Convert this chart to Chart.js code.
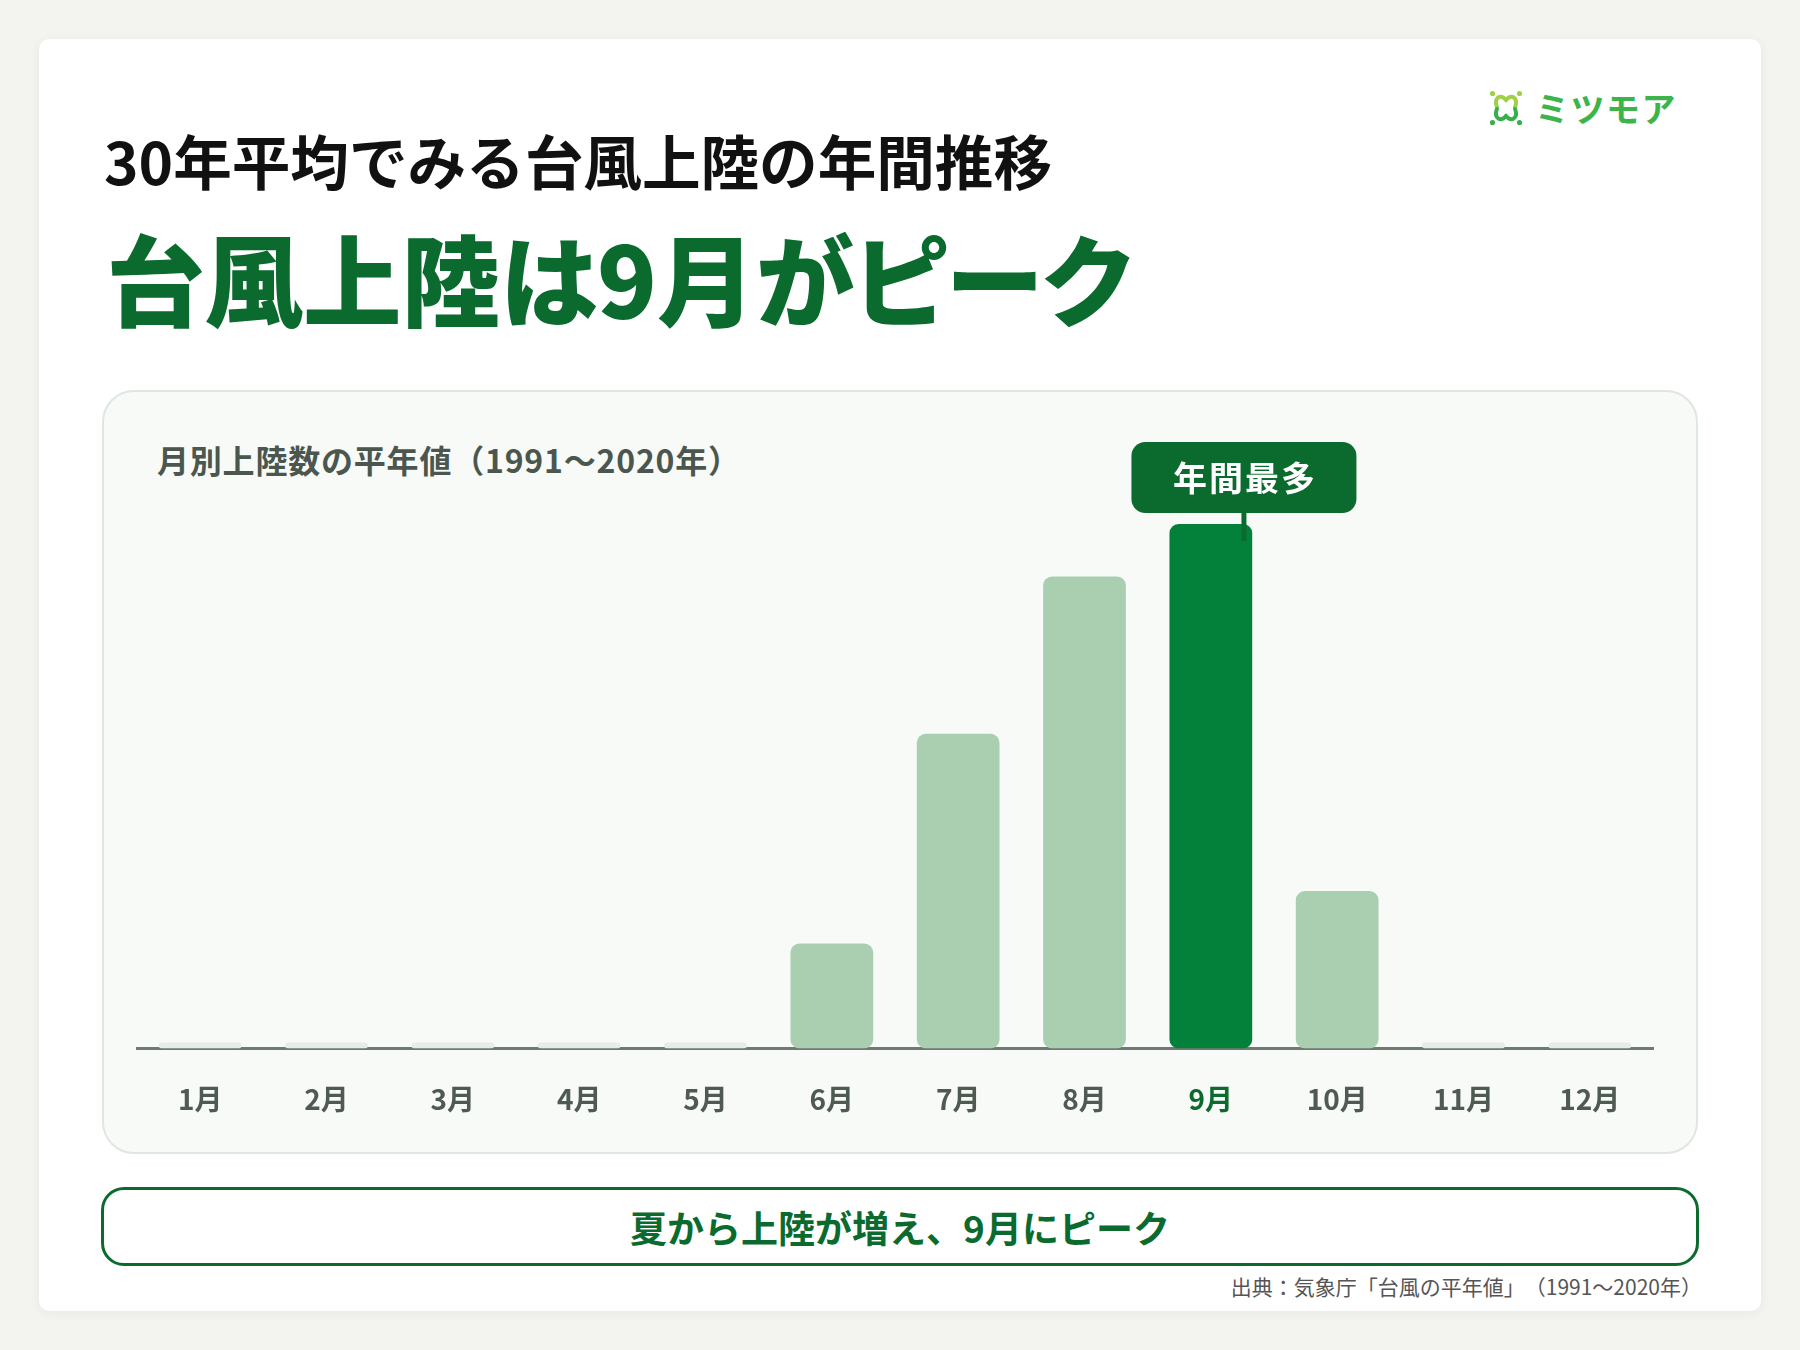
<!DOCTYPE html>
<html lang="ja">
<head>
<meta charset="utf-8">
<script src="https://cdn.jsdelivr.net/npm/chart.js@4.4.1/dist/chart.umd.min.js"></script>
<style>
html,body{margin:0;padding:0;}
body{width:1800px;height:1350px;background:#f3f3f0;position:relative;overflow:hidden;font-family:"Noto Sans CJK JP","Noto Sans",sans-serif;}
.card{position:absolute;left:39px;top:39px;width:1722px;height:1272px;background:#ffffff;border-radius:10px;box-shadow:0 2px 12px rgba(0,0,0,0.05);}
.t1{position:absolute;left:104px;top:131px;font-size:58.6px;line-height:58px;font-weight:700;color:#111;white-space:nowrap;}
.t2{position:absolute;left:106px;top:227px;font-size:98.5px;line-height:98px;font-weight:900;color:#0b6b2e;white-space:nowrap;font-feature-settings:"palt";}
.logo{position:absolute;left:1489px;top:90px;height:36px;display:flex;align-items:center;}
.logo span{font-size:34px;line-height:36px;font-weight:600;color:#3cb44b;letter-spacing:1.5px;margin-left:12px;}
.panel{position:absolute;left:102px;top:390px;width:1596px;height:764px;box-sizing:border-box;border:2px solid #dfe7e0;border-radius:32px;background:#f8faf8;}
.sub{position:absolute;left:157px;top:444px;font-size:32px;line-height:31px;font-weight:700;color:#4b574e;white-space:nowrap;letter-spacing:0.8px;text-spacing-trim:space-all;}
#c{position:absolute;left:102px;top:390px;}
.note{position:absolute;left:101px;top:1187px;width:1598px;height:79px;box-sizing:border-box;border:3.5px solid #0b6b2e;border-radius:23px;background:#fff;display:flex;align-items:center;justify-content:center;font-size:37px;font-weight:700;color:#0b6b2e;}
.src{position:absolute;right:98px;top:1275px;font-size:21px;line-height:22px;color:#555;white-space:nowrap;text-spacing-trim:space-all;}
</style>
</head>
<body>
<div class="card"></div>
<div class="t1">30年平均でみる台風上陸の年間推移</div>
<div class="t2">台風上陸は9月がピーク</div>
<div class="logo">
<svg width="34" height="36" viewBox="0 0 34 36">
<circle cx="3.5" cy="3.5" r="2.6" fill="#9fd048"/>
<circle cx="30.5" cy="3.5" r="2.6" fill="#9fd048"/>
<circle cx="3.5" cy="32.5" r="2.6" fill="#36b04a"/>
<circle cx="30.5" cy="32.5" r="2.6" fill="#36b04a"/>
<path d="M8 17 C5 10 9 6 13 7 C15 7.5 16 9 17 10 C18 9 19 7.5 21 7 C25 6 29 10 26 17" fill="none" stroke="#9fd048" stroke-width="4" stroke-linecap="round"/>
<path d="M8 19 C5 26 9 30 13 29 C15 28.5 16 27 17 26 C18 27 19 28.5 21 29 C25 30 29 26 26 19" fill="none" stroke="#36b04a" stroke-width="4" stroke-linecap="round"/>
</svg>
<span>ミツモア</span>
</div>
<div class="panel"></div>
<div class="sub">月別上陸数の平年値（1991〜2020年）</div>
<canvas id="c" width="1596" height="764"></canvas>
<div class="note">夏から上陸が増え、9月にピーク</div>
<div class="src">出典：気象庁「台風の平年値」（1991〜2020年）</div>
<script>
const months = ['1月','2月','3月','4月','5月','6月','7月','8月','9月','10月','11月','12月'];
const landings = [0, 0, 0, 0, 0, 0.2, 0.6, 0.9, 1.0, 0.3, 0, 0];
const peakLabel = '年間最多';
const peakIndex = landings.indexOf(Math.max(...landings));

const FONT = '"Noto Sans CJK JP", "Noto Sans", sans-serif';

const peakPlugin = {
  id: 'peak',
  afterDatasetsDraw(chart) {
    const bar = chart.getDatasetMeta(0).data[peakIndex];
    const ctx = chart.ctx;
    const bw = 225, bh = 71;
    const cx = bar.x + bar.width * 0.4;
    const bottom = bar.y - 11;
    ctx.save();
    ctx.strokeStyle = '#0b6b2e';
    ctx.lineWidth = 5;
    ctx.beginPath();
    ctx.moveTo(cx, bottom - 2);
    ctx.lineTo(cx, bar.y + 17);
    ctx.stroke();
    ctx.fillStyle = '#0b6b2e';
    ctx.beginPath();
    ctx.roundRect(cx - bw / 2, bottom - bh, bw, bh, 14);
    ctx.fill();
    ctx.fillStyle = '#ffffff';
    ctx.font = 'bold 34px ' + FONT;
    ctx.textAlign = 'center';
    ctx.textBaseline = 'middle';
    try { ctx.letterSpacing = '2px'; } catch (e) {}
    ctx.fillText(peakLabel, cx + 1, bottom - bh / 2 + 1);
    ctx.restore();
  }
};

new Chart(document.getElementById('c'), {
  type: 'bar',
  data: {
    labels: months,
    datasets: [{
      data: landings,
      backgroundColor: (c) => c.dataIndex === peakIndex ? '#03803a' : (landings[c.dataIndex] === 0 ? '#e6ece8' : '#a9cfb0'),
      borderRadius: 9,
      borderSkipped: false,
      minBarLength: 6,
      categoryPercentage: 1,
      barPercentage: 0.655
    }]
  },
  options: {
    responsive: false,
    animation: false,
    devicePixelRatio: 1,
    layout: { padding: { left: 35, right: 45, top: 134, bottom: 4 } },
    plugins: { legend: { display: false }, tooltip: { enabled: false } },
    scales: {
      x: {
        grid: { display: false, drawTicks: false },
        border: { display: true, color: '#6f7b72', width: 3 },
        ticks: {
          padding: 34,
          font: { family: FONT, size: 28, weight: 'bold' },
          color: (c) => c.index === peakIndex ? '#0b6b2e' : '#4f5a53'
        }
      },
      y: { display: false, min: 0, max: 1.0 }
    }
  },
  plugins: [peakPlugin]
});
</script>
</body>
</html>
